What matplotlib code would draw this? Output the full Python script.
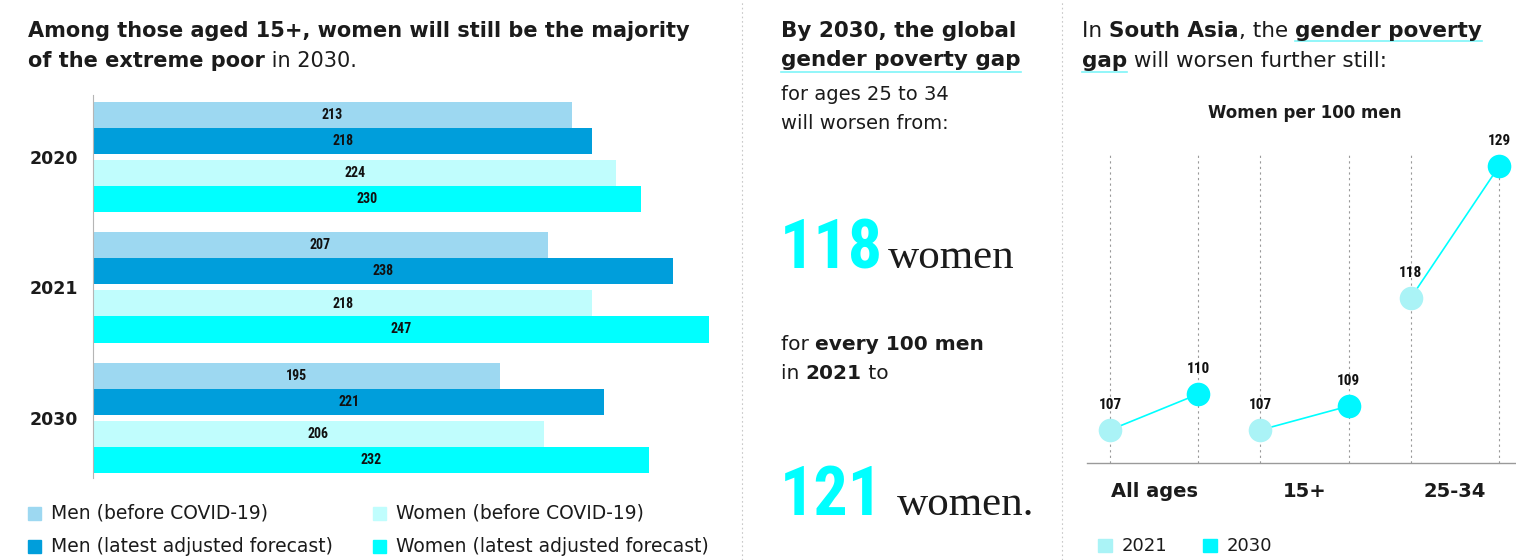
import matplotlib
matplotlib.use("Agg")
import matplotlib.pyplot as plt
from matplotlib import font_manager
from matplotlib.lines import Line2D
from matplotlib.patches import Rectangle

W, H = 1516, 560

# ---- data ----
years = ["2020", "2021", "2030"]
men_before = [213, 207, 195]
men_latest = [218, 238, 221]
women_before = [224, 218, 206]
women_latest = [230, 247, 232]
series_labels = ["Men (before COVID-19)", "Men (latest adjusted forecast)",
                 "Women (before COVID-19)", "Women (latest adjusted forecast)"]

age_groups = ["All ages", "15+", "25-34"]
ratio_2021 = [107, 107, 118]
ratio_2030 = [110, 109, 129]
line_years = ["2021", "2030"]

gap_from = "118"
gap_to = "121"

# ---- style ----
TXT = "#1b1b1b"
C_MEN_B = "#9dd8f1"
C_MEN_L = "#009edb"
C_WOM_B = "#c0fdfd"
C_WOM_L = "#00ffff"
C_2021 = "#aaf3f6"
C_2030 = "#00f7ff"
SANS = "DejaVu Sans"

names = {f.name for f in font_manager.fontManager.ttflist}
narrow_pick = None
for cand in ("Roboto Condensed", "Liberation Sans Narrow", "Open Sans Condensed", "Noto Sans Condensed"):
    if cand in names:
        narrow_pick = cand
        break
if narrow_pick:
    NARROW = dict(family=narrow_pick)
    big_size = 49
else:
    NARROW = dict(family="DejaVu Sans", stretch="condensed")
    big_size = 44
SERIF = "Liberation Serif" if "Liberation Serif" in names else "DejaVu Serif"

fig = plt.figure(figsize=(W / 100, H / 100), dpi=100)
renderer = fig.canvas.get_renderer()


def fx(x):
    return x / W


def fy(y):
    return 1 - y / H


def text_width(s, size, weight):
    t = fig.text(0, 0, s, fontsize=size, fontweight=weight, family=SANS)
    w = t.get_window_extent(renderer).width
    t.remove()
    return w


def rich(x, y, pieces, size=14):
    """Draw a line made of (text, bold) pieces; returns x spans of each piece."""
    space = text_width("x x", size, "normal") - text_width("xx", size, "normal")
    cur = x
    spans = []
    for s, bold in pieces:
        weight = "bold" if bold else "normal"
        core = s.strip()
        lead = len(s) - len(s.lstrip())
        trail = len(s) - len(s.rstrip())
        fig.text(fx(cur), fy(y), s, fontsize=size, fontweight=weight,
                 family=SANS, color=TXT, va="baseline", ha="left")
        w = text_width(core, size, weight) if core else 0
        start = cur + lead * space
        spans.append((start, start + w))
        cur = start + w + trail * space
    return spans


def underline(x0, x1, y):
    fig.add_artist(Line2D([fx(x0), fx(x1)], [fy(y), fy(y)], color="#7ff5f8", lw=1.2))


# ---- separators ----
for sx in (742, 1062):
    fig.add_artist(Line2D([fx(sx), fx(sx)], [0, 1], color="#c8c8c8", lw=0.8, ls=(0, (1.5, 2.5))))

# ---- left panel: bar chart ----
rich(28, 37, [("Among those aged 15+, women will still be the majority", True)], size=15)
rich(28, 67, [("of the extreme poor", True), (" in 2030.", False)], size=15)

ax1 = fig.add_axes([fx(93), fy(478), (740 - 93) / W, (478 - 95) / H])
x_lo, x_hi = 94, 254.7
ax1.set_xlim(x_lo, x_hi)
ax1.set_ylim(2.46, -0.475)
offsets = [-0.322, -0.123, 0.123, 0.322]
series = [men_before, men_latest, women_before, women_latest]
colors = [C_MEN_B, C_MEN_L, C_WOM_B, C_WOM_L]
for vals, off, col in zip(series, offsets, colors):
    ys = [i + off for i in range(len(years))]
    ax1.barh(ys, vals, height=0.2, color=col, left=0)
    for yv, v in zip(ys, vals):
        ax1.text((x_lo + v) / 2, yv, str(v), ha="center", va="center",
                 fontsize=10, fontweight="bold", color="#111111", **NARROW)
ax1.set_yticks(range(len(years)))
ax1.set_yticklabels(years, fontsize=12.5, fontweight="bold", family=SANS, color=TXT)
ax1.tick_params(axis="y", length=0, pad=11)
ax1.set_xticks([])
for side in ("top", "right", "bottom"):
    ax1.spines[side].set_visible(False)
ax1.spines["left"].set_color("#b5b5b5")
ax1.spines["left"].set_linewidth(0.8)

# legend
for i, (lab, col) in enumerate(zip(series_labels, colors)):
    col_i, row_i = divmod(i, 2)
    sq_x = [28, 373][col_i]
    ty = [513, 546][row_i]
    fig.add_artist(Rectangle((fx(sq_x), fy(ty + 7)), 13 / W, 13 / H, color=col,
                             transform=fig.transFigure))
    fig.text(fx(sq_x + 23), fy(ty), lab, fontsize=13.5, family=SANS, color=TXT,
             va="center", ha="left")

# ---- middle panel ----
rich(781, 37, [("By 2030, the global", True)], size=15.5)
sp = rich(781, 66, [("gender poverty gap", True)], size=15.5)
underline(sp[0][0], sp[0][1], 72)
rich(781, 100, [("for ages 25 to 34", False)])
rich(781, 129, [("will worsen from:", False)])
fig.text(fx(780), fy(268), gap_from, fontsize=big_size, fontweight="bold", color=C_WOM_L,
         va="baseline", ha="left", **NARROW)
fig.text(fx(888), fy(268), "women", fontsize=31, family=SERIF, color=TXT, va="baseline", ha="left")
rich(781, 350, [("for ", False), ("every 100 men", True)], size=14.5)
rich(781, 379, [("in ", False), ("2021", True), (" to", False)], size=14.5)
fig.text(fx(780), fy(515), gap_to, fontsize=big_size, fontweight="bold", color=C_WOM_L,
         va="baseline", ha="left", **NARROW)
fig.text(fx(897), fy(515), "women.", fontsize=31, family=SERIF, color=TXT, va="baseline", ha="left")

# ---- right panel: slope chart ----
sp = rich(1082, 37, [("In ", False), ("South Asia", True), (", the ", False), ("gender poverty", True)],
          size=15.5)
underline(sp[3][0], sp[3][1], 41)
sp = rich(1082, 67, [("gap", True), (" will worsen further still:", False)], size=15.5)
underline(sp[0][0], sp[0][1], 72)
fig.text(fx(1305), fy(118), "Women per 100 men", fontsize=12, fontweight="bold",
         family=SANS, color=TXT, ha="center", va="baseline")

ax2 = fig.add_axes([fx(1087), fy(463), (1516 - 1087) / W, (463 - 130) / H])
y_lo = 104.25
ax2.set_xlim(-0.26, 4.59)
ax2.set_ylim(y_lo, 132)
group_step = 1.7
for g, (a, b) in enumerate(zip(ratio_2021, ratio_2030)):
    x0 = g * group_step
    xs = [x0, x0 + 1]
    ax2.vlines(xs, y_lo, 130.2, colors="#9a9a9a", lw=0.8, linestyles=(0, (2, 3)), zorder=1)
    ax2.plot(xs, [a, b], color=C_WOM_L, lw=1.2, zorder=2)
    ax2.plot([x0], [a], "o", ms=17, color=C_2021, mec="none", zorder=3)
    ax2.plot([x0 + 1], [b], "o", ms=17, color=C_2030, mec="none", zorder=3)
    for xv, v in zip(xs, [a, b]):
        ax2.annotate(str(v), (xv, v), xytext=(0, 18), textcoords="offset points",
                     ha="center", va="center", fontsize=11, fontweight="bold",
                     color="#111111", **NARROW)
ax2.set_xticks([g * group_step + 0.5 for g in range(len(age_groups))])
ax2.set_xticklabels(age_groups, fontsize=14, fontweight="bold", family=SANS, color=TXT)
ax2.tick_params(axis="x", length=0, pad=14)
ax2.set_yticks([])
for side in ("top", "right", "left"):
    ax2.spines[side].set_visible(False)
ax2.spines["bottom"].set_color("#9a9a9a")
ax2.spines["bottom"].set_linewidth(1)

# legend
for lab, col, sq_x in zip(line_years, [C_2021, C_2030], [1098, 1203]):
    fig.add_artist(Rectangle((fx(sq_x), fy(552)), 14 / W, 13 / H, color=col,
                             transform=fig.transFigure))
    fig.text(fx(sq_x + 24), fy(546), lab, fontsize=13, family=SANS, color=TXT,
             va="center", ha="left")

fig.savefig("out.png", dpi=100)
